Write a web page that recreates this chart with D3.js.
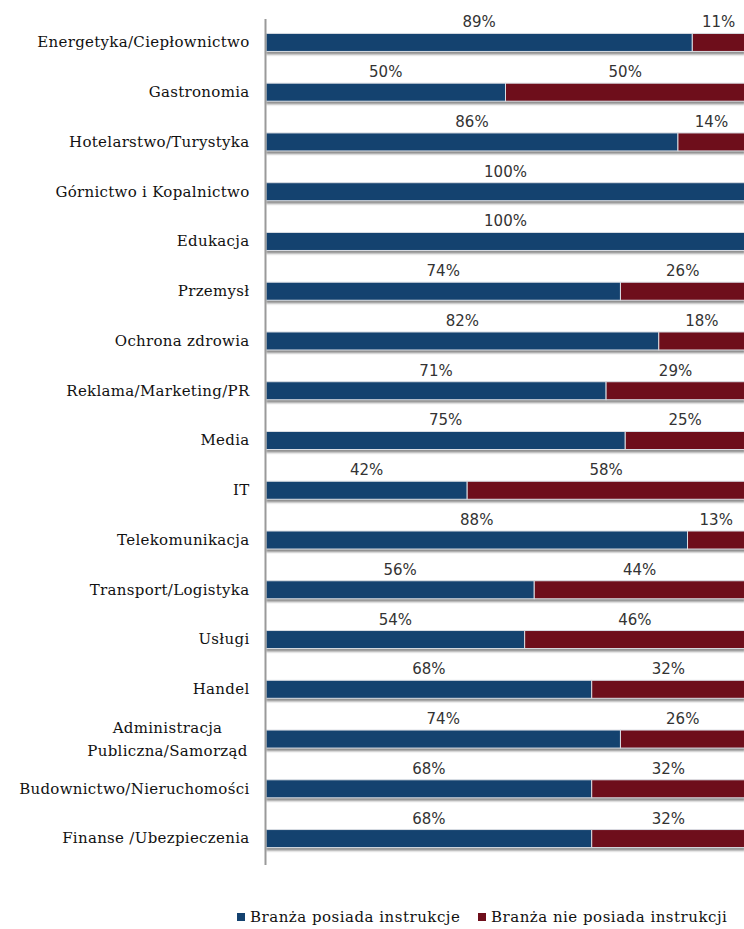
<!DOCTYPE html>
<html>
<head>
<meta charset="utf-8">
<script src="https://cdn.jsdelivr.net/npm/d3@7"></script>
<style>
  html, body { margin: 0; padding: 0; background: #fff; }
  svg { display: block; }
</style>
</head>
<body>
<div id="chart"></div>
<script>
// Branża: share of respondents whose industry has instructions vs. not
const categories = [
  "Energetyka/Ciepłownictwo",
  "Gastronomia",
  "Hotelarstwo/Turystyka",
  "Górnictwo i Kopalnictwo",
  "Edukacja",
  "Przemysł",
  "Ochrona zdrowia",
  "Reklama/Marketing/PR",
  "Media",
  "IT",
  "Telekomunikacja",
  "Transport/Logistyka",
  "Usługi",
  "Handel",
  "Administracja\nPubliczna/Samorząd",
  "Budownictwo/Nieruchomości",
  "Finanse /Ubezpieczenia"
];
const hasInstructions = [89, 50, 86, 100, 100, 74, 82, 71, 75, 42, 88, 56, 54, 68, 74, 68, 68];
const noInstructions  = [11, 50, 14, 0, 0, 26, 18, 29, 25, 58, 13, 44, 46, 32, 26, 32, 32];
const seriesNames = ["Branża posiada instrukcje", "Branża nie posiada instrukcji"];
const seriesColors = ["#14426f", "#6e0e1b"];

const W = 744, H = 929;
const svg = d3.select("#chart").append("svg").attr("width", W).attr("height", H);

const defs = svg.append("defs");
defs.append("filter").attr("id", "shadow").attr("x", "-5%").attr("y", "-50%").attr("width", "110%").attr("height", "200%")
  .append("feGaussianBlur").attr("stdDeviation", 1.2);

const x = d3.scaleLinear().domain([0, 100]).range([266, 745]);
const y = d3.scaleBand().domain(categories).range([18, 863]).paddingInner(0.638).paddingOuter(0.31);

const rows = categories.map((c, i) => ({
  cat: c,
  segs: [
    { s: 0, x0: 0, x1: hasInstructions[i], v: hasInstructions[i] },
    { s: 1, x0: hasInstructions[i], x1: hasInstructions[i] + noInstructions[i], v: noInstructions[i] }
  ].filter(d => d.v > 0)
}));

const g = svg.append("g");

// soft drop shadow under each bar
g.selectAll("rect.shadow").data(rows).join("rect")
  .attr("class", "shadow")
  .attr("x", x(0))
  .attr("y", d => y(d.cat) + y.bandwidth() - 1)
  .attr("width", d => x(d3.sum(d.segs, s => s.v)) - x(0))
  .attr("height", 4)
  .attr("fill", "#8a8a8a")
  .attr("filter", "url(#shadow)");

const row = g.selectAll("g.row").data(rows).join("g").attr("class", "row")
  .attr("transform", d => `translate(0,${y(d.cat)})`);

row.selectAll("rect.seg").data(d => d.segs).join("rect")
  .attr("class", "seg")
  .attr("x", d => x(d.x0))
  .attr("y", 0)
  .attr("width", d => x(d.x1) - x(d.x0))
  .attr("height", y.bandwidth())
  .attr("fill", d => seriesColors[d.s])
  .attr("stroke", "#d9dde3")
  .attr("stroke-width", 1);

row.selectAll("text.val").data(d => d.segs).join("text")
  .attr("class", "val")
  .attr("x", d => (x(d.x0) + Math.min(x(d.x1), 745)) / 2)
  .attr("y", -6)
  .attr("text-anchor", "middle")
  .attr("font-family", "'DejaVu Sans', sans-serif")
  .attr("font-size", 15)
  .attr("fill", "#333")
  .text(d => d.v + "%");

// category axis
const axis = d3.axisLeft(y).tickSize(0).tickPadding(16);
const ax = svg.append("g").attr("transform", `translate(${x(0) - 0.5},0)`).call(axis);
ax.select(".domain").attr("stroke", "#9a9a9a").attr("stroke-width", 2).attr("d", "M0,19V865");
ax.selectAll(".tick text")
  .attr("font-family", "'DejaVu Serif', serif")
  .attr("font-size", 15)
  .attr("letter-spacing", "0.3px")
  .attr("fill", "#111")
  .each(function(d) {
    const lines = d.split("\n");
    if (lines.length > 1) {
      const t = d3.select(this).text(null).attr("text-anchor", "middle");
      t.attr("x", -98);
      lines.forEach((ln, k) => {
        t.append("tspan").attr("x", -98).attr("dy", k === 0 ? "-0.42em" : "1.55em").text(ln);
      });
    }
  });

// legend
const legend = svg.append("g").attr("transform", "translate(0,918)");
const legX = [237, 478];
seriesNames.forEach((name, i) => {
  legend.append("rect").attr("x", legX[i]).attr("y", -5).attr("width", 8).attr("height", 8).attr("fill", seriesColors[i]);
  legend.append("text").attr("x", legX[i] + 13).attr("y", 4)
    .attr("font-family", "'DejaVu Serif', serif").attr("font-size", 15)
    .attr("letter-spacing", "0.5px")
    .attr("fill", "#111").text(name);
});
</script>
</body>
</html>
